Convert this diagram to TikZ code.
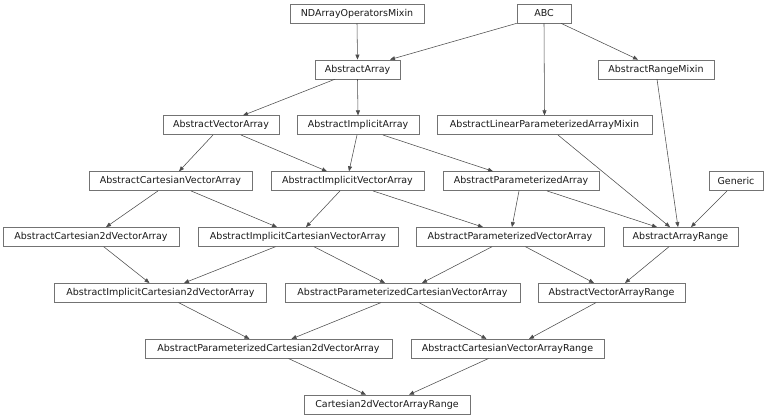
\documentclass[tikz,border=0pt]{standalone}
\usepackage{fontspec}
\setmainfont{DejaVu Sans}
\usetikzlibrary{arrows.meta}
\begin{document}
\begin{tikzpicture}[x=1pt,y=-1pt,
  cls/.style={draw=black!55, line width=0.6pt, fill=white, minimum height=19pt, inner sep=0pt,
    font=\fontsize{9.5}{11}\selectfont, text=black!90},
  edge/.style={draw=black!70, line width=0.55pt, -{Triangle[length=5pt,width=4pt]}}]
\useasboundingbox (0,0) rectangle (768,418);
% row 1
\node[cls, minimum width=134pt] (nd)  at (357,13.5) {NDArrayOperatorsMixin};
\node[cls, minimum width=54pt]  (abc) at (544,13.5) {ABC};
% row 2
\node[cls, minimum width=85pt]  (aa)  at (357.5,69.4) {AbstractArray};
\node[cls, minimum width=116pt] (arm) at (656,69.4) {AbstractRangeMixin};
% row 3
\node[cls, minimum width=116pt] (ava)   at (221,125.2) {AbstractVectorArray};
\node[cls, minimum width=122pt] (aia)   at (358,125.2) {AbstractImplicitArray};
\node[cls, minimum width=215pt] (alpam) at (544.5,125.2) {AbstractLinearParameterizedArrayMixin};
% row 4
\node[cls, minimum width=163pt] (acva) at (170.5,181.1) {AbstractCartesianVectorArray};
\node[cls, minimum width=153pt] (aiva) at (347.5,181.1) {AbstractImplicitVectorArray};
\node[cls, minimum width=156pt] (apa)  at (521,181.1) {AbstractParameterizedArray};
\node[cls, minimum width=54pt]  (gen)  at (736,181.1) {Generic};
% row 5
\node[cls, minimum width=176pt] (ac2)  at (91,236.9) {AbstractCartesian2dVectorArray};
\node[cls, minimum width=200pt] (aicva) at (298,236.9) {AbstractImplicitCartesianVectorArray};
\node[cls, minimum width=188pt] (apva) at (510,236.9) {AbstractParameterizedVectorArray};
\node[cls, minimum width=115pt] (aar)  at (680.5,236.9) {AbstractArrayRange};
% row 6
\node[cls, minimum width=212pt] (aic2) at (160.5,292.8) {AbstractImplicitCartesian2dVectorArray};
\node[cls, minimum width=235pt] (apcva) at (402.5,292.8) {AbstractParameterizedCartesianVectorArray};
\node[cls, minimum width=147pt] (avar) at (611.5,292.8) {AbstractVectorArrayRange};
% row 7
\node[cls, minimum width=247pt] (apc2) at (268.5,348.7) {AbstractParameterizedCartesian2dVectorArray};
\node[cls, minimum width=193pt] (acvar) at (507.5,348.7) {AbstractCartesianVectorArrayRange};
% row 8
\node[cls, minimum width=166pt] (c2r) at (387,404.5) {Cartesian2dVectorArrayRange};
% edges
\draw[edge] (nd.south) -- (aa.north);
\draw[edge] (abc.south west) -- ([xshift=32.5pt]aa.north);
\draw[edge] (abc.south) -- (alpam.north);
\draw[edge] ([xshift=17pt]abc.south) -- ([xshift=-18pt]arm.north);
\draw[edge] ([xshift=-22.5pt]aa.south) -- ([xshift=22pt]ava.north);
\draw[edge] (aa.south) -- (aia.north);
\draw[edge] ([xshift=-8pt]ava.south) -- ([xshift=8.5pt]acva.north);
\draw[edge] ([xshift=20pt]ava.south) -- ([xshift=-20.5pt]aiva.north);
\draw[edge] ([xshift=-1pt]aia.south) -- ([xshift=1.5pt]aiva.north);
\draw[edge] ([xshift=25pt]aia.south) -- ([xshift=-28pt]apa.north);
\draw[edge] ([xshift=13.5pt]alpam.south) -- ([xshift=-10.5pt]aar.north);
\draw[edge] ([xshift=1pt]arm.south) -- ([xshift=-2.5pt]aar.north);
\draw[edge] ([xshift=-12.5pt]acva.south) -- ([xshift=15pt]ac2.north);
\draw[edge] ([xshift=20.5pt]acva.south) -- ([xshift=-21pt]aicva.north);
\draw[edge] ([xshift=-7.5pt]aiva.south) -- ([xshift=8pt]aicva.north);
\draw[edge] ([xshift=25.5pt]aiva.south) -- ([xshift=-27pt]apva.north);
\draw[edge] ([xshift=-2pt]apa.south) -- ([xshift=2pt]apva.north);
\draw[edge] ([xshift=26pt]apa.south) -- ([xshift=-23.5pt]aar.north);
\draw[edge] ([xshift=-9pt]gen.south) -- ([xshift=10.5pt]aar.north);
\draw[edge] ([xshift=12.7pt]ac2.south) -- ([xshift=-11pt]aic2.north);
\draw[edge] ([xshift=-22.5pt]aicva.south) -- ([xshift=23.5pt]aic2.north);
\draw[edge] ([xshift=16pt]aicva.south) -- ([xshift=-17.5pt]apcva.north);
\draw[edge] ([xshift=-18pt]apva.south) -- ([xshift=19.5pt]apcva.north);
\draw[edge] ([xshift=15.5pt]apva.south) -- ([xshift=-17.5pt]avar.north);
\draw[edge] ([xshift=-11.5pt]aar.south) -- ([xshift=13.5pt]avar.north);
\draw[edge] ([xshift=18pt]aic2.south) -- ([xshift=-19pt]apc2.north);
\draw[edge] ([xshift=-21.5pt]apcva.south) -- ([xshift=23pt]apc2.north);
\draw[edge] ([xshift=16.5pt]apcva.south) -- ([xshift=-21pt]acvar.north);
\draw[edge] ([xshift=-15.5pt]avar.south) -- ([xshift=21.5pt]acvar.north);
\draw[edge] ([xshift=20pt]apc2.south) -- ([xshift=-21pt]c2r.north);
\draw[edge] ([xshift=-19pt]acvar.south) -- ([xshift=22pt]c2r.north);
\end{tikzpicture}
\end{document}
